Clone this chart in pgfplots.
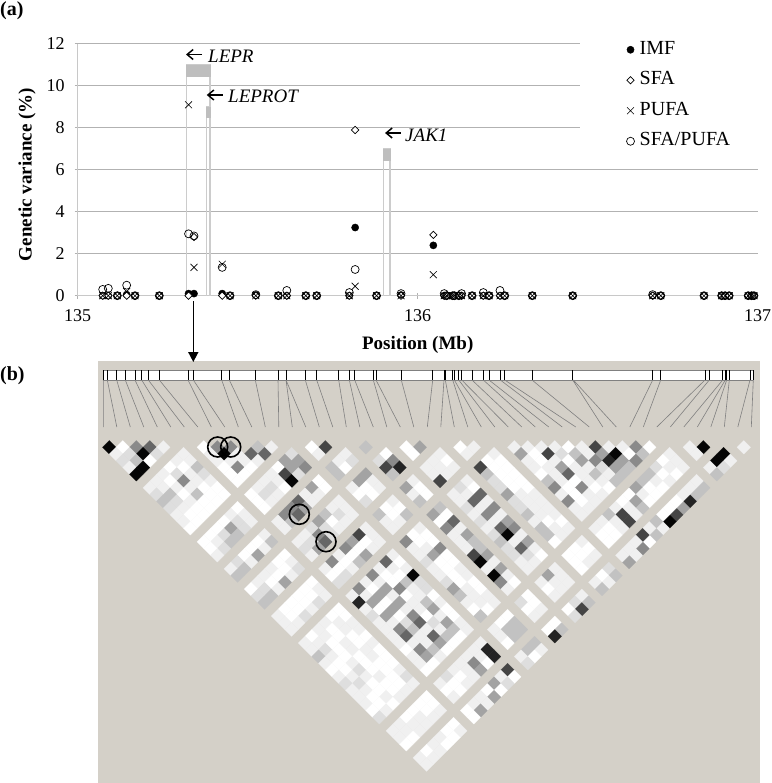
\documentclass[border=0pt]{standalone}
\usepackage{pgfplots}
\usepackage{pgfplotstable}
\usepackage{fontspec}
\setmainfont{Liberation Serif}
\pgfplotsset{compat=1.18}
\usetikzlibrary{arrows.meta}
\newcommand\fa{\fontsize{19bp}{21bp}\selectfont}
\newcommand\ft{\fontsize{18bp}{20bp}\selectfont}
\definecolor{panel}{RGB}{212,208,200}
\definecolor{gridc}{RGB}{178,178,178}
\definecolor{axisc}{RGB}{200,200,200}
\definecolor{barc}{RGB}{190,190,190}
\definecolor{barl}{RGB}{204,204,204}
\pgfplotsset{pt/.style={only marks,legend image code/.code={\draw[##1] plot coordinates {(0bp,0bp)};\path (-4bp,0bp) (4bp,0bp);}}}
\pgfplotstableread[row sep=\\]{
i j v\\
0 1 9\\1 2 0\\2 3 5\\3 4 6\\4 5 1\\0 2 1\\1 3 2\\2 4 9\\3 5 2\\0 3 2\\1 4 3\\2 5 0\\0 4 1\\1 5 9\\0 5 9\\
5 7 1\\5 8 1\\5 9 3\\5 10 2\\5 11 1\\5 12 0\\5 13 0\\
4 7 1\\4 8 0\\4 9 1\\4 10 1\\4 11 0\\4 12 0\\4 13 0\\
3 7 0\\3 8 2\\3 9 5\\3 10 1\\3 11 3\\3 12 0\\3 13 0\\
2 7 1\\2 8 0\\2 9 1\\2 10 0\\2 11 1\\2 12 0\\2 13 0\\
1 7 1\\1 8 1\\1 9 3\\1 10 2\\1 11 1\\1 12 0\\1 13 0\\
0 7 1\\0 8 2\\0 9 3\\0 10 2\\0 11 1\\0 12 1\\0 13 0\\
7 8 0\\8 9 5\\9 10 5\\11 12 3\\12 13 1\\7 9 1\\8 10 9\\9 11 1\\10 12 6\\11 13 6\\
7 10 1\\8 11 1\\9 12 1\\10 13 1\\7 11 0\\8 12 5\\9 13 0\\7 12 0\\8 13 0\\7 13 0\\
5 15 0\\5 16 1\\5 17 1\\4 15 1\\4 16 2\\4 17 2\\3 15 0\\3 16 4\\3 17 3\\2 15 0\\2 16 2\\2 17 3\\1 15 0\\1 16 1\\1 17 2\\0 15 0\\0 16 0\\0 17 1\\
13 15 2\\13 16 4\\13 17 5\\12 15 4\\12 16 4\\12 17 2\\11 15 0\\11 16 7\\11 17 9\\10 15 1\\10 16 1\\10 17 0\\9 15 1\\9 16 2\\9 17 1\\8 15 1\\8 16 2\\8 17 1\\7 15 0\\7 16 0\\7 17 0\\
15 16 0\\16 17 7\\15 17 1\\
5 19 1\\5 20 3\\4 19 0\\4 20 1\\3 19 0\\3 20 4\\2 19 0\\2 20 1\\1 19 2\\1 20 3\\0 19 1\\0 20 3\\
13 19 0\\13 20 0\\12 19 4\\12 20 1\\11 19 1\\11 20 1\\10 19 6\\10 20 4\\9 19 5\\9 20 6\\8 19 5\\8 20 3\\7 19 1\\7 20 1\\
15 19 3\\15 20 3\\16 19 1\\16 20 0\\17 19 1\\17 20 2\\19 20 3\\
5 22 0\\5 23 1\\5 24 2\\4 22 0\\4 23 0\\4 24 1\\3 22 1\\3 23 0\\3 24 4\\2 22 1\\2 23 0\\2 24 1\\1 22 1\\1 23 2\\1 24 3\\0 22 0\\0 23 2\\0 24 3\\
13 22 1\\13 23 1\\13 24 1\\12 22 1\\12 23 2\\12 24 1\\11 22 3\\11 23 0\\11 24 1\\10 22 4\\10 23 2\\10 24 2\\9 22 2\\9 23 5\\9 24 6\\8 22 1\\8 23 2\\8 24 4\\7 22 1\\7 23 2\\7 24 1\\
17 22 4\\17 23 1\\17 24 1\\16 22 4\\16 23 0\\16 24 0\\15 22 1\\15 23 0\\15 24 2\\
20 22 0\\20 23 5\\20 24 8\\19 22 2\\19 23 7\\19 24 3\\22 23 0\\23 24 4\\22 24 0\\
5 26 0\\5 27 1\\5 28 1\\4 26 0\\4 27 0\\4 28 2\\3 26 0\\3 27 0\\3 28 1\\2 26 0\\2 27 0\\2 28 2\\1 26 0\\1 27 0\\1 28 1\\0 26 1\\0 27 1\\0 28 1\\
13 26 1\\13 27 1\\13 28 1\\12 26 7\\12 27 0\\12 28 1\\11 26 4\\11 27 0\\11 28 4\\10 26 5\\10 27 0\\10 28 3\\9 26 1\\9 27 0\\9 28 1\\8 26 5\\8 27 0\\8 28 2\\7 26 1\\7 27 0\\7 28 2\\
17 26 1\\17 27 0\\17 28 3\\16 26 0\\16 27 0\\16 28 1\\15 26 3\\15 27 1\\15 28 1\\
20 26 1\\20 27 0\\20 28 0\\19 26 4\\19 27 1\\19 28 3\\
24 26 1\\24 27 0\\24 28 1\\23 26 1\\23 27 1\\23 28 1\\22 26 1\\22 27 1\\22 28 7\\
26 27 0\\27 28 1\\26 28 1\\
5 30 0\\5 31 0\\5 32 1\\5 33 1\\5 34 0\\5 35 1\\5 36 0\\5 37 0\\5 38 0\\5 39 1\\5 40 2\\5 41 1\\
4 30 0\\4 31 1\\4 32 1\\4 33 0\\4 34 0\\4 35 1\\4 36 1\\4 37 0\\4 38 0\\4 39 0\\4 40 0\\4 41 1\\
3 30 1\\3 31 0\\3 32 0\\3 33 1\\3 34 1\\3 35 0\\3 36 0\\3 37 0\\3 38 1\\3 39 0\\3 40 0\\3 41 1\\
2 30 1\\2 31 1\\2 32 0\\2 33 0\\2 34 0\\2 35 1\\2 36 2\\2 37 1\\2 38 0\\2 39 0\\2 40 1\\2 41 0\\
1 30 0\\1 31 1\\1 32 2\\1 33 1\\1 34 0\\1 35 0\\1 36 1\\1 37 2\\1 38 1\\1 39 0\\1 40 0\\1 41 1\\
0 30 1\\0 31 1\\0 32 3\\0 33 1\\0 34 0\\0 35 1\\0 36 2\\0 37 1\\0 38 1\\0 39 1\\0 40 0\\0 41 2\\
13 30 1\\13 31 0\\13 32 1\\13 33 9\\13 34 2\\13 35 2\\13 36 0\\13 37 1\\13 38 0\\13 39 0\\13 40 1\\13 41 1\\
12 30 6\\12 31 1\\12 32 0\\12 33 3\\12 34 1\\12 35 1\\12 36 3\\12 37 4\\12 38 1\\12 39 4\\12 40 3\\12 41 0\\
11 30 1\\11 31 0\\11 32 0\\11 33 5\\11 34 0\\11 35 1\\11 36 1\\11 37 0\\11 38 2\\11 39 1\\11 40 3\\11 41 0\\
10 30 5\\10 31 1\\10 32 4\\10 33 1\\10 34 4\\10 35 1\\10 36 5\\10 37 6\\10 38 1\\10 39 6\\10 40 4\\10 41 0\\
9 30 1\\9 31 0\\9 32 4\\9 33 0\\9 34 4\\9 35 0\\9 36 2\\9 37 3\\9 38 1\\9 39 1\\9 40 3\\9 41 1\\
8 30 5\\8 31 1\\8 32 4\\8 33 0\\8 34 4\\8 35 1\\8 36 5\\8 37 6\\8 38 1\\8 39 5\\8 40 4\\8 41 0\\
7 30 1\\7 31 8\\7 32 1\\7 33 2\\7 34 1\\7 35 1\\7 36 1\\7 37 1\\7 38 0\\7 39 1\\7 40 1\\7 41 0\\
17 30 1\\17 31 0\\17 32 0\\17 33 5\\17 34 0\\17 35 0\\17 36 1\\17 37 1\\17 38 0\\17 39 0\\17 40 1\\17 41 1\\
16 30 0\\16 31 0\\16 32 1\\16 33 4\\16 34 0\\16 35 0\\16 36 0\\16 37 0\\16 38 1\\16 39 1\\16 40 1\\16 41 0\\
15 30 5\\15 31 1\\15 32 1\\15 33 2\\15 34 1\\15 35 1\\15 36 2\\15 37 4\\15 38 3\\15 39 1\\15 40 0\\15 41 3\\
20 30 3\\20 31 0\\20 32 6\\20 33 1\\20 34 4\\20 35 3\\20 36 3\\20 37 4\\20 38 1\\20 39 4\\20 40 1\\20 41 0\\
19 30 4\\19 31 0\\19 32 5\\19 33 1\\19 34 1\\19 35 1\\19 36 7\\19 37 9\\19 38 1\\19 39 9\\19 40 5\\19 41 1\\
24 30 1\\24 31 0\\24 32 6\\24 33 1\\24 34 5\\24 35 1\\24 36 4\\24 37 5\\24 38 1\\24 39 4\\24 40 1\\24 41 0\\
23 30 2\\23 31 1\\23 32 6\\23 33 1\\23 34 5\\23 35 1\\23 36 6\\23 37 9\\23 38 1\\23 39 6\\23 40 2\\23 41 1\\
22 30 1\\22 31 1\\22 32 2\\22 33 1\\22 34 2\\22 35 1\\22 36 2\\22 37 3\\22 38 2\\22 39 2\\22 40 1\\22 41 1\\
28 30 1\\28 31 0\\28 32 0\\28 33 0\\28 34 0\\28 35 0\\28 36 1\\28 37 1\\28 38 1\\28 39 1\\28 40 0\\28 41 1\\
27 30 0\\27 31 0\\27 32 0\\27 33 0\\27 34 0\\27 35 1\\27 36 1\\27 37 1\\27 38 1\\27 39 0\\27 40 1\\27 41 1\\
26 30 7\\26 31 3\\26 32 2\\26 33 2\\26 34 4\\26 35 2\\26 36 2\\26 37 3\\26 38 1\\26 39 3\\26 40 3\\26 41 0\\
30 31 1\\31 32 1\\32 33 1\\33 34 1\\34 35 0\\35 36 1\\36 37 7\\37 38 1\\38 39 1\\39 40 5\\40 41 0\\
30 32 4\\31 33 0\\32 34 7\\33 35 2\\34 36 3\\35 37 1\\36 38 4\\37 39 9\\38 40 0\\39 41 3\\
30 33 1\\31 34 0\\32 35 1\\33 36 0\\34 37 4\\35 38 5\\36 39 8\\37 40 4\\38 41 5\\
30 34 1\\31 35 1\\32 36 4\\33 37 1\\34 38 1\\35 39 2\\36 40 4\\37 41 3\\
30 35 0\\31 36 1\\32 37 6\\33 38 1\\34 39 3\\35 40 1\\36 41 3\\
30 36 3\\31 37 1\\32 38 0\\33 39 1\\34 40 1\\35 41 3\\
30 37 5\\31 38 0\\32 39 5\\33 40 0\\34 41 0\\
30 38 1\\31 39 0\\32 40 1\\33 41 1\\30 39 5\\31 40 0\\32 41 1\\30 40 1\\31 41 1\\30 41 1\\
5 43 0\\5 44 0\\5 45 1\\4 43 0\\4 44 0\\4 45 1\\3 43 0\\3 44 1\\3 45 1\\2 43 0\\2 44 1\\2 45 1\\1 43 1\\1 44 1\\1 45 0\\0 43 1\\0 44 1\\0 45 0\\
5 47 0\\5 48 1\\4 47 0\\4 48 0\\3 47 1\\3 48 0\\2 47 1\\2 48 1\\1 47 0\\1 48 1\\0 47 1\\0 48 1\\
13 43 1\\13 44 8\\13 45 8\\12 43 1\\12 44 1\\12 45 0\\11 43 1\\11 44 5\\11 45 4\\10 43 1\\10 44 1\\10 45 1\\9 43 1\\9 44 0\\9 45 1\\8 43 2\\8 44 0\\8 45 0\\7 43 1\\7 44 0\\7 45 1\\
13 47 7\\13 48 0\\12 47 1\\12 48 2\\11 47 4\\11 48 0\\10 47 0\\10 48 4\\9 47 1\\9 48 1\\8 47 1\\8 48 4\\7 47 0\\7 48 0\\
17 43 0\\17 44 3\\17 45 3\\16 43 0\\16 44 3\\16 45 3\\15 43 1\\15 44 1\\15 45 0\\
17 47 3\\17 48 1\\16 47 3\\16 48 0\\15 47 1\\15 48 2\\
20 43 0\\20 44 0\\20 45 1\\19 43 2\\19 44 0\\19 45 1\\20 47 0\\20 48 3\\19 47 0\\19 48 8\\
24 43 1\\24 44 1\\24 45 1\\23 43 4\\23 44 1\\23 45 1\\22 43 1\\22 44 0\\22 45 1\\
24 47 1\\24 48 3\\23 47 2\\23 48 7\\22 47 0\\22 48 2\\
28 43 1\\28 44 0\\28 45 1\\27 43 0\\27 44 0\\27 45 1\\26 43 0\\26 44 0\\26 45 0\\
28 47 2\\28 48 3\\27 47 0\\27 48 1\\26 47 1\\26 48 3\\
41 43 1\\41 44 1\\41 45 1\\40 43 0\\40 44 1\\40 45 0\\39 43 2\\39 44 0\\39 45 1\\38 43 3\\38 44 1\\38 45 0\\37 43 3\\37 44 0\\37 45 0\\36 43 4\\36 44 1\\36 45 0\\
35 43 0\\35 44 4\\35 45 3\\34 43 0\\34 44 1\\34 45 1\\33 43 1\\33 44 7\\33 45 7\\32 43 3\\32 44 1\\32 45 1\\31 43 1\\31 44 0\\31 45 0\\30 43 1\\30 44 0\\30 45 0\\
41 48 3\\40 48 3\\39 48 8\\38 48 4\\37 48 7\\36 48 9\\35 48 1\\34 48 3\\33 48 0\\32 48 5\\31 48 1\\30 48 4\\
41 47 1\\40 47 1\\39 47 1\\38 47 0\\37 47 0\\36 47 0\\35 47 3\\34 47 1\\33 47 7\\32 47 1\\31 47 1\\30 47 1\\
45 47 9\\45 48 1\\44 47 9\\44 48 2\\43 47 1\\43 48 3\\43 44 1\\44 45 9\\43 45 1\\47 48 1\\
}\ldtable
\begin{document}
\begin{tikzpicture}
\path[use as bounding box] (0,0) rectangle (772bp,783bp);
\begin{axis}[
  at={(77.7bp,487.3bp)},anchor=south west,scale only axis,width=680bp,height=251.7bp,
  xmin=135,xmax=137,ymin=0,ymax=12,clip=false,
  xtick={135,136,137},ytick={0,2,4,6,8,10,12},
  /pgf/number format/assume math mode=true,
  /pgf/number format/1000 sep={},
  tick label style={font=\ft},
  yticklabel style={xshift=-6.5bp},
  xticklabel style={yshift=-7bp},
  ymajorgrids,grid style={gridc,line width=1bp},
  tick style={gridc,line width=1bp},tick align=outside,major tick length=6bp,
  axis x line=bottom,axis y line=left,axis line style={axisc,line width=1.5bp,-},
  xlabel={\textbf{Position (Mb)}},
  xlabel style={font=\fa,at={(axis description cs:0.5,-0.196)},anchor=center},
  ylabel={\textbf{Genetic variance (\%)}},
  ylabel style={font=\fa,at={(axis description cs:-0.0746,0.4815)},anchor=center},
  legend style={at={(axis cs:136.613,12.14)},anchor=north west,draw=none,fill=none,inner sep=0pt,
    font=\fontsize{20bp}{22bp}\selectfont,row sep=13.5bp,column sep=5bp,nodes={text height=13bp,text depth=4bp,inner sep=0pt}},
  legend cell align=left,
]
\fill[white] (axis cs:136.477,6.3) rectangle (axis cs:137.1,12.5);
\addplot[forget plot,barl,line width=1.5bp] coordinates {(135.3206,0)(135.3206,11)(135.389,11)(135.389,0)};
\addplot[forget plot,barc,fill=barc,line width=0.5bp] coordinates {(135.3206,10.45)(135.3206,11)(135.389,11)(135.389,10.45)} --cycle;
\addplot[forget plot,barl,line width=1.5bp] coordinates {(135.379,0)(135.379,9)(135.39,9)(135.39,0)};
\addplot[forget plot,barc,fill=barc,line width=0.5bp] coordinates {(135.379,8.5)(135.379,9)(135.39,9)(135.39,8.5)} --cycle;
\addplot[forget plot,barl,line width=1.5bp] coordinates {(135.899,0)(135.899,7)(135.919,7)(135.919,0)};
\addplot[forget plot,barc,fill=barc,line width=0.5bp] coordinates {(135.899,6.45)(135.899,7)(135.919,7)(135.919,6.45)} --cycle;
\addplot[pt,mark=*,mark size=3.6bp,black,mark options={fill=black}] coordinates {
(135.0735,0)(135.090,0)(135.1165,0)(135.144,0.05)(135.1685,0)(135.240,0)(135.326,0.1)(135.342,0.1)(135.425,0.1)(135.448,0)(135.524,0.03)(135.590,0)(135.615,0)(135.671,0)(135.703,0)(135.799,0)(135.816,3.25)(135.879,0)(135.951,0.03)(136.046,2.4)(136.078,0)(136.085,0)(136.103,0)(136.108,0)(136.121,0)(136.129,0)(136.160,0)(136.193,0)(136.210,0)(136.242,0)(136.256,0)(136.337,0)(136.456,0)(136.691,0)(136.715,0)(136.842,0)(136.894,0)(136.904,0)(136.916,0)(136.972,0)(136.982,0)(136.989,0)};
\addlegendentry{IMF}
\addplot[pt,mark=square*,mark size=2.6bp,black,mark options={fill=white,line width=0.7bp,rotate=45}] coordinates {
(135.0735,0)(135.090,0)(135.1165,0)(135.144,0)(135.1685,0)(135.240,0)(135.326,0)(135.342,2.8)(135.425,0)(135.448,0)(135.524,0)(135.590,0)(135.615,0)(135.671,0)(135.703,0)(135.799,0)(135.816,7.9)(135.879,0)(135.951,0)(136.046,2.9)(136.078,0)(136.085,0)(136.103,0)(136.108,0)(136.121,0)(136.129,0)(136.160,0)(136.193,0)(136.210,0)(136.242,0)(136.256,0)(136.337,0)(136.456,0)(136.691,0)(136.715,0)(136.842,0)(136.894,0)(136.904,0)(136.916,0)(136.972,0)(136.982,0)(136.989,0)};
\addlegendentry{SFA}
\addplot[pt,mark=x,mark size=4.9bp,black,mark options={line width=0.6bp}] coordinates {
(135.0735,0)(135.090,0)(135.1165,0)(135.144,0.2)(135.1685,0)(135.240,0)(135.326,9.1)(135.342,1.35)(135.425,1.5)(135.448,0)(135.524,0)(135.590,0)(135.615,0)(135.671,0)(135.703,0)(135.799,0)(135.816,0.45)(135.879,0)(135.951,0)(136.046,1.0)(136.078,0)(136.085,0)(136.103,0)(136.108,0)(136.121,0)(136.129,0)(136.160,0)(136.193,0)(136.210,0)(136.242,0)(136.256,0)(136.337,0)(136.456,0)(136.691,0)(136.715,0)(136.842,0)(136.894,0)(136.904,0)(136.916,0)(136.972,0)(136.982,0)(136.989,0)};
\addlegendentry{PUFA}
\addplot[pt,mark=o,mark size=4bp,black,mark options={line width=0.7bp}] coordinates {
(135.0735,0.3)(135.090,0.35)(135.1165,0)(135.144,0.5)(135.1685,0)(135.240,0)(135.326,2.95)(135.342,2.85)(135.425,1.35)(135.448,0)(135.524,0.05)(135.590,0)(135.615,0.25)(135.671,0)(135.703,0)(135.799,0.15)(135.816,1.25)(135.879,0)(135.951,0.1)(136.078,0.1)(136.085,0)(136.103,0)(136.108,0)(136.121,0)(136.129,0.1)(136.160,0)(136.193,0.15)(136.210,0)(136.242,0.25)(136.256,0)(136.337,0)(136.456,0)(136.691,0.05)(136.715,0)(136.842,0)(136.894,0)(136.904,0)(136.916,0)(136.972,0)(136.982,0)(136.989,0)};
\addlegendentry{SFA/PUFA}
\end{axis}
\begin{axis}[
  at={(0bp,0bp)},anchor=south west,scale only axis,width=772bp,height=783bp,
  xmin=0,xmax=772,ymin=0,ymax=783,y dir=reverse,axis lines=none,clip=false,
  colormap={ld}{gray(0cm)=(1); gray(1cm)=(0.94); gray(2cm)=(0.87); gray(3cm)=(0.76); gray(4cm)=(0.64); gray(5cm)=(0.54); gray(6cm)=(0.4); gray(7cm)=(0.27); gray(8cm)=(0.14); gray(9cm)=(0.02)},
  point meta min=0,point meta max=9,
]
\fill[panel] (axis cs:98,361) rectangle (axis cs:760,783);
\fill[white] (axis cs:102.7,370) rectangle (axis cs:753.3,380);
\draw[gray,line width=0.7bp] (axis cs:102.7,370)--(axis cs:753.3,370);
\draw[gray,line width=0.7bp] (axis cs:102.7,380)--(axis cs:753.3,380);
\addplot[black,line width=0.8bp,unbounded coords=jump] coordinates {
(103.3,370)(103.3,380)(103.3,nan)(107.3,370)(107.3,380)(107.3,nan)(116.7,370)(116.7,380)(116.7,nan)(125.3,370)(125.3,380)(125.3,nan)(135,370)(135,380)(135,nan)(141.7,370)(141.7,380)(141.7,nan)(148.3,370)(148.3,380)(148.3,nan)(159.3,370)(159.3,380)(159.3,nan)(188,370)(188,380)(188,nan)(193.3,370)(193.3,380)(193.3,nan)(221.7,370)(221.7,380)(221.7,nan)(229.3,370)(229.3,380)(229.3,nan)(255.3,370)(255.3,380)(255.3,nan)(278,370)(278,380)(278,nan)(286,370)(286,380)(286,nan)(305.3,370)(305.3,380)(305.3,nan)(316.7,370)(316.7,380)(316.7,nan)(338.7,370)(338.7,380)(338.7,nan)(349.3,370)(349.3,380)(349.3,nan)(354.7,370)(354.7,380)(354.7,nan)(373.3,370)(373.3,380)(373.3,nan)(376,370)(376,380)(376,nan)(401.3,370)(401.3,380)(401.3,nan)(432.7,370)(432.7,380)(432.7,nan)(444,370)(444,380)(444,nan)(445.3,370)(445.3,380)(445.3,nan)(452.7,370)(452.7,380)(452.7,nan)(454.3,370)(454.3,380)(454.3,nan)(458.7,370)(458.7,380)(458.7,nan)(461.7,370)(461.7,380)(461.7,nan)(472,370)(472,380)(472,nan)(483.3,370)(483.3,380)(483.3,nan)(489,370)(489,380)(489,nan)(500.3,370)(500.3,380)(500.3,nan)(504.7,370)(504.7,380)(504.7,nan)(532,370)(532,380)(532,nan)(572.7,370)(572.7,380)(572.7,nan)(652.7,370)(652.7,380)(652.7,nan)(660.7,370)(660.7,380)(660.7,nan)(705,370)(705,380)(705,nan)(709.3,370)(709.3,380)(709.3,nan)(722.7,370)(722.7,380)(722.7,nan)(725.3,370)(725.3,380)(725.3,nan)(726.7,370)(726.7,380)(726.7,nan)(729.3,370)(729.3,380)(729.3,nan)(750,370)(750,380)(750,nan)(753.3,370)(753.3,380)};
\addplot[black!50,line width=0.6bp,unbounded coords=jump] coordinates {
(103.3,380)(103.3,427)(103.3,nan)(107.3,380)(116.8,427)(116.8,nan)(116.7,380)(130.3,427)(130.3,nan)(125.3,380)(143.8,427)(143.8,nan)(135,380)(157.3,427)(157.3,nan)(141.7,380)(170.8,427)(170.8,nan)(148.3,380)(184.3,427)(184.3,nan)(159.3,380)(197.8,427)(197.8,nan)(188,380)(211.3,427)(211.3,nan)(193.3,380)(224.8,427)(224.8,nan)(221.7,380)(238.3,427)(238.3,nan)(229.3,380)(251.8,427)(251.8,nan)(255.3,380)(265.3,427)(265.3,nan)(278,380)(278.8,427)(278.8,nan)(286,380)(292.3,427)(292.3,nan)(286,380)(305.8,427)(305.8,nan)(305.3,380)(319.3,427)(319.3,nan)(316.7,380)(332.8,427)(332.8,nan)(338.7,380)(346.3,427)(346.3,nan)(349.3,380)(359.8,427)(359.8,nan)(354.7,380)(373.3,427)(373.3,nan)(373.3,380)(386.8,427)(386.8,nan)(376,380)(400.3,427)(400.3,nan)(401.3,380)(413.8,427)(413.8,nan)(432.7,380)(427.3,427)(427.3,nan)(444,380)(440.8,427)(440.8,nan)(445.3,380)(454.3,427)(454.3,nan)(452.7,380)(467.8,427)(467.8,nan)(454.3,380)(481.3,427)(481.3,nan)(458.7,380)(494.8,427)(494.8,nan)(461.7,380)(508.3,427)(508.3,nan)(472,380)(521.8,427)(521.8,nan)(483.3,380)(535.3,427)(535.3,nan)(489,380)(548.8,427)(548.8,nan)(500.3,380)(562.3,427)(562.3,nan)(504.7,380)(575.8,427)(575.8,nan)(532,380)(589.3,427)(589.3,nan)(572.7,380)(602.8,427)(602.8,nan)(573.3,380)(616.3,427)(616.3,nan)(652.7,380)(629.8,427)(629.8,nan)(660.7,380)(643.3,427)(643.3,nan)(705,380)(656.8,427)(656.8,nan)(709.3,380)(670.3,427)(670.3,nan)(722.7,380)(683.8,427)(683.8,nan)(725.3,380)(697.3,427)(697.3,nan)(726.7,380)(710.8,427)(710.8,nan)(729.3,380)(724.3,427)(724.3,nan)(750,380)(737.8,427)(737.8,nan)(753.3,380)(751.3,427)};
\addplot[scatter,only marks,mark=square*,mark size=4.85pt,scatter/use mapped color={draw=mapped color,fill=mapped color},mark options={rotate=45,line width=0.1pt},point meta=\thisrow{v}]
  table[x expr={109.3+6.75*(\thisrow{i}+\thisrow{j}-1)},y expr={447.3+6.75*(\thisrow{j}-\thisrow{i}-1)}] {\ldtable};
\addplot[only marks,mark=o,mark size=10bp,black,mark options={line width=1.6bp}] coordinates {(217.7,447)(230.7,447)(299.3,514.3)(326,541.7)};
\draw[line width=1.6bp,-{Triangle[length=10bp,width=10bp]}] (axis cs:193.3,301)--(axis cs:193.3,362);
\node[font=\fontsize{20bp}{22bp}\selectfont\bfseries,anchor=west,inner sep=0pt] at (axis cs:0,11) {(a)};
\node[font=\fontsize{20bp}{22bp}\selectfont\bfseries,anchor=west,inner sep=0pt] at (axis cs:0,376) {(b)};
\node[font=\fa\itshape,anchor=west,inner sep=0pt] at (axis cs:208,56) {LEPR};
\node[font=\fa\itshape,anchor=west,inner sep=0pt] at (axis cs:228,96.7) {LEPROT};
\node[font=\fa\itshape,anchor=west,inner sep=0pt] at (axis cs:405,135) {JAK1};
\draw[line width=1.5bp,-{Straight Barb[length=6bp,width=10bp]}] (axis cs:202,54.5)--(axis cs:186,54.5);
\draw[line width=1.5bp,-{Straight Barb[length=6bp,width=10bp]}] (axis cs:222.7,95)--(axis cs:206.7,95);
\draw[line width=1.5bp,-{Straight Barb[length=6bp,width=10bp]}] (axis cs:400.7,133)--(axis cs:385,133);
\end{axis}
\end{tikzpicture}
\end{document}
